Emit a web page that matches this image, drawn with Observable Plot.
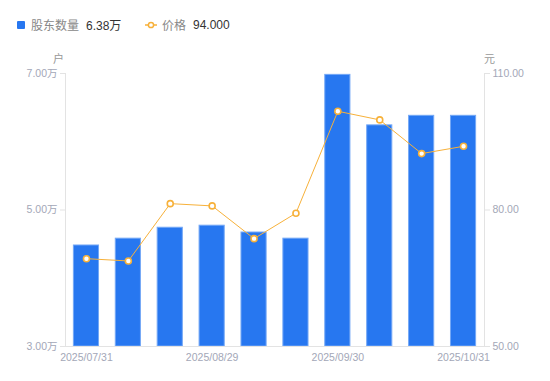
<!DOCTYPE html>
<html><head><meta charset="utf-8">
<script src="https://cdn.jsdelivr.net/npm/d3@7"></script>
<script src="https://cdn.jsdelivr.net/npm/@observablehq/plot@0.6"></script>
<style>
body{margin:0;background:#fff;font-family:"Liberation Sans","Noto Sans CJK SC",sans-serif;}
#wrap{position:relative;width:550px;height:381px;}
.lg{position:absolute;top:16px;font-size:12px;color:#888;display:flex;align-items:center;white-space:nowrap;}
.lg b{font-weight:normal;color:#333;margin-left:7px;}
.unit{position:absolute;top:50px;font-size:11px;color:#999;}
</style></head>
<body><div id="wrap">
<div class="lg" style="left:17px"><span style="display:inline-block;width:8px;height:8px;background:#2777f0;border-radius:1px;margin-right:6px"></span>股东数量<b>6.38万</b></div>
<div class="lg" style="left:145px"><svg width="12" height="8" style="margin-right:5px"><line x1="0" y1="4" x2="12" y2="4" stroke="#f7b13a" stroke-width="1.5"/><circle cx="6" cy="4" r="2.6" fill="#fff" stroke="#f7b13a" stroke-width="1.5"/></svg>价格<b>94.000</b></div>
<div class="unit" style="left:53px">户</div>
<div class="unit" style="left:484px">元</div>
<div id="chart" style="position:absolute;left:0;top:0"></div>
</div>
<script>
const dates = ["2025/07/31","2025/08/10","2025/08/20","2025/08/29","2025/09/10","2025/09/19","2025/09/30","2025/10/10","2025/10/20","2025/10/31"];
const holders = [44800, 45800, 47400, 47700, 46700, 45800, 69800, 62400, 63800, 63800];
const prices = [69.3, 68.8, 81.4, 80.9, 73.7, 79.3, 101.7, 99.8, 92.4, 94.0];
const xTickLabels = ["2025/07/31","2025/08/29","2025/09/30","2025/10/31"];
const leftTicks = [30000, 50000, 70000];
const rightTicks = [50, 80, 110];

const pMin = 50, pMax = 110, hMin = 30000, hMax = 70000;
const p2h = p => hMin + (p - pMin) / (pMax - pMin) * (hMax - hMin);

const data = dates.map((d, i) => ({date: d, holders: holders[i], price: prices[i], py: p2h(prices[i])}));

const gray = "#a3a7b7";
const axisLine = "#e3e3e3";

const chart = Plot.plot({
  width: 550, height: 381,
  marginLeft: 65, marginRight: 66, marginTop: 73, marginBottom: 35,
  style: {fontFamily: "'Liberation Sans','Noto Sans CJK SC',sans-serif", fontSize: "10.5px", background: "transparent"},
  x: {type: "band", domain: dates, paddingInner: 0.4, paddingOuter: 0.2, align: 0.5, round: false},
  y: {domain: [hMin, hMax]},
  marks: [
    Plot.barY(data, {x: "date", y1: hMin, y2: "holders", fill: "#2777f0", stroke: "#74a8f6", strokeWidth: 1, inset: 0}),
    Plot.axisY({anchor: "left", ticks: leftTicks, tickFormat: d => (d / 10000).toFixed(2) + "万", tickSize: 5, tickPadding: 3, color: gray, stroke: axisLine, label: null}),
    Plot.axisY({anchor: "right", ticks: rightTicks.map(p2h), tickFormat: (d, i) => rightTicks[i].toFixed(2), tickSize: 5, tickPadding: 3, color: gray, stroke: axisLine, label: null}),
    Plot.axisX({ticks: xTickLabels, tickSize: 0, tickPadding: 7, color: gray, label: null}),
    Plot.frame({anchor: "left", stroke: axisLine}),
    Plot.frame({anchor: "right", stroke: axisLine}),
    Plot.frame({anchor: "bottom", stroke: axisLine}),
    Plot.line(data, {x: "date", y: "py", stroke: "#f7b13a", strokeWidth: 1}),
    Plot.dot(data, {x: "date", y: "py", r: 3, fill: "#fff", stroke: "#f7b13a", strokeWidth: 1.6})
  ]
});
document.getElementById("chart").appendChild(chart);
</script>
</body></html>
